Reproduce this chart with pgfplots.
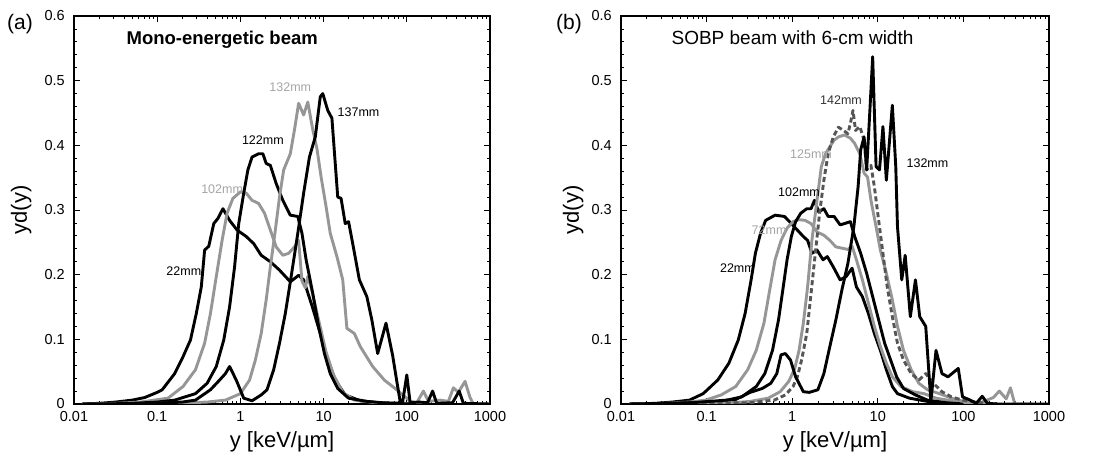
\documentclass[border=0pt]{standalone}
\usepackage{pgfplots}
\pgfplotsset{compat=1.18}
\usepackage{fontspec}
\setmainfont{Liberation Sans}
\definecolor{lg}{RGB}{150,150,150}
\definecolor{lgl}{RGB}{165,165,165}
\definecolor{dg}{RGB}{85,85,85}
\pgfplotsset{
  panel/.style={
    scale only axis, anchor=south west, height=388pt,
    xmin=-2, xmax=3, ymin=0, ymax=0.6,
    xtick={-2,-1,0,1,2,3},
    xticklabels={0.01,0.1,1,10,100,1000},
    minor xtick={-1.699,-1.523,-1.398,-1.301,-1.222,-1.155,-1.097,-1.046,
      -0.699,-0.523,-0.398,-0.301,-0.222,-0.155,-0.097,-0.046,
      0.301,0.477,0.602,0.699,0.778,0.845,0.903,0.954,
      1.301,1.477,1.602,1.699,1.778,1.845,1.903,1.954,
      2.301,2.477,2.602,2.699,2.778,2.845,2.903,2.954},
    ytick={0,0.1,0.2,0.3,0.4,0.5,0.6},
    yticklabels={0,0.1,0.2,0.3,0.4,0.5,0.6},
    minor y tick num=4,
    tick align=inside, tick pos=both,
    major tick length=6pt, minor tick length=3pt,
    every tick/.style={black, line width=0.8pt},
    axis line style={line width=1.3pt},
    xticklabel style={font=\fontsize{14.5}{16}\selectfont, inner sep=0pt, yshift=-7pt},
    yticklabel style={font=\fontsize{14.5}{16}\selectfont, inner sep=0pt, xshift=-9pt},
    xlabel={y [keV/µm]},
    ylabel={yd(y)},
    xlabel style={font=\fontsize{22}{24}\selectfont, at={(axis description cs:0.5,-0.098)}, anchor=center},
    label style={font=\fontsize{22}{24}\selectfont},
    every axis plot/.append style={line width=2.9pt, line join=round},
  },
  blk/.style={black},
  gry/.style={lg},
}
\begin{document}
\begin{tikzpicture}
\useasboundingbox (0,0) rectangle (1096pt,460pt);
\node[font=\fontsize{21}{23}\selectfont] at (20pt,436pt) {(a)};
\node[font=\fontsize{21}{23}\selectfont] at (569pt,436pt) {(b)};
% ---------------- panel (a) ----------------
\begin{axis}[panel, width=416pt, at={(74pt,56pt)},
  ylabel style={at={(axis description cs:-0.127,0.5)}, anchor=center}]
% 22mm
\addplot[blk] coordinates {(-1.9,0) (-1.7,0.001) (-1.5,0.003) (-1.3,0.006) (-1.15,0.01) (-1.0,0.018) (-0.94,0.022) (-0.79,0.047) (-0.69,0.073) (-0.60,0.099) (-0.53,0.14) (-0.47,0.181) (-0.43,0.238) (-0.38,0.244) (-0.32,0.279) (-0.27,0.287) (-0.21,0.302) (-0.13,0.284) (-0.04,0.269) (0.07,0.259) (0.16,0.248) (0.25,0.230) (0.36,0.220) (0.47,0.207) (0.60,0.189) (0.70,0.199) (0.76,0.192) (0.87,0.148) (0.96,0.109) (1.05,0.068) (1.14,0.037) (1.26,0.014) (1.44,0.005) (1.66,0.002) (2.0,0.001) (2.2,0)};
% 102mm
\addplot[gry] coordinates {(-1.9,0) (-1.5,0.001) (-1.2,0.003) (-0.87,0.009) (-0.69,0.027) (-0.54,0.053) (-0.43,0.094) (-0.36,0.14) (-0.29,0.197) (-0.22,0.253) (-0.16,0.295) (-0.09,0.318) (0,0.328) (0.07,0.326) (0.14,0.315) (0.22,0.31) (0.29,0.295) (0.36,0.269) (0.43,0.243) (0.51,0.23) (0.58,0.233) (0.65,0.243) (0.70,0.253) (0.74,0.19) (0.78,0.18) (0.81,0.197) (0.85,0.18) (0.94,0.13) (1.03,0.08) (1.12,0.045) (1.23,0.018) (1.37,0.006) (1.62,0.002) (1.9,0.001) (2.2,0)};
% 122mm
\addplot[blk] coordinates {(-1.9,0) (-1.3,0.001) (-1.0,0.003) (-0.79,0.006) (-0.54,0.016) (-0.40,0.032) (-0.29,0.058) (-0.20,0.099) (-0.13,0.15) (-0.07,0.212) (-0.02,0.279) (0.04,0.326) (0.09,0.362) (0.14,0.382) (0.22,0.387) (0.27,0.387) (0.31,0.372) (0.36,0.369) (0.43,0.341) (0.51,0.315) (0.60,0.292) (0.69,0.29) (0.74,0.264) (0.79,0.223) (0.87,0.171) (0.94,0.12) (1.01,0.078) (1.08,0.047) (1.17,0.024) (1.30,0.009) (1.52,0.004) (1.8,0.001) (2.1,0)};
% 132mm
\addplot[gry] coordinates {(-1.9,0) (-0.8,0.001) (-0.4,0.003) (-0.18,0.006) (0,0.016) (0.11,0.037) (0.18,0.068) (0.25,0.109) (0.31,0.161) (0.36,0.212) (0.42,0.269) (0.47,0.32) (0.52,0.362) (0.60,0.387) (0.65,0.424) (0.70,0.465) (0.76,0.447) (0.81,0.467) (0.87,0.424) (0.92,0.395) (0.97,0.351) (1.03,0.305) (1.08,0.264) (1.16,0.228) (1.23,0.192) (1.28,0.117) (1.37,0.109) (1.44,0.089) (1.59,0.058) (1.73,0.037) (1.88,0.022) (1.95,0.014) (2.05,0.004) (2.12,0.002) (2.2,0.02) (2.26,0.004) (2.4,0.006) (2.5,0.004) (2.56,0.025) (2.62,0.018) (2.7,0.035) (2.76,0.01) (2.8,0) (3,0)};
% 137mm
\addplot[blk] coordinates {(-1.9,0) (-1.0,0.001) (-0.7,0.003) (-0.54,0.006) (-0.36,0.022) (-0.25,0.037) (-0.18,0.047) (-0.13,0.058) (-0.05,0.037) (0.04,0.009) (0.14,0.005) (0.25,0.014) (0.32,0.022) (0.40,0.053) (0.47,0.094) (0.54,0.14) (0.61,0.197) (0.69,0.264) (0.76,0.326) (0.83,0.382) (0.90,0.413) (0.96,0.475) (0.99,0.48) (1.05,0.454) (1.10,0.442) (1.14,0.372) (1.17,0.32) (1.21,0.318) (1.26,0.279) (1.30,0.282) (1.35,0.248) (1.43,0.192) (1.52,0.166) (1.58,0.13) (1.65,0.078) (1.75,0.125) (1.83,0.075) (1.88,0.035) (1.92,0.004) (1.95,0.003) (2.0,0.045) (2.04,0.002) (2.15,0.003) (2.25,0.002) (2.31,0.02) (2.36,0.001) (2.55,0.002) (2.63,0.02) (2.68,0.001) (3,0)};
\node[font=\fontsize{18.5}{20}\selectfont\bfseries, anchor=west] at (axis cs:-1.41,0.563) {Mono-energetic beam};
\node[font=\fontsize{12.5}{14}\selectfont, text=lgl] at (axis cs:0.60,0.49) {132mm};
\node[font=\fontsize{12.5}{14}\selectfont] at (axis cs:1.42,0.451) {137mm};
\node[font=\fontsize{12.5}{14}\selectfont] at (axis cs:0.27,0.408) {122mm};
\node[font=\fontsize{12.5}{14}\selectfont, text=lgl] at (axis cs:-0.22,0.332) {102mm};
\node[font=\fontsize{12.5}{14}\selectfont] at (axis cs:-0.68,0.205) {22mm};
\end{axis}
% ---------------- panel (b) ----------------
\begin{axis}[panel, width=428pt, at={(621pt,56pt)},
  ylabel style={at={(axis description cs:-0.112,0.5)}, anchor=center}]
% 22mm
\addplot[blk] coordinates {(-1.9,0) (-1.6,0.001) (-1.4,0.003) (-1.2,0.006) (-1.04,0.016) (-0.87,0.037) (-0.74,0.063) (-0.63,0.099) (-0.55,0.14) (-0.48,0.192) (-0.43,0.233) (-0.37,0.264) (-0.31,0.284) (-0.2,0.292) (-0.09,0.29) (-0.01,0.279) (0.06,0.269) (0.13,0.259) (0.18,0.253) (0.23,0.233) (0.29,0.238) (0.36,0.223) (0.41,0.228) (0.48,0.212) (0.56,0.192) (0.63,0.197) (0.70,0.21) (0.75,0.181) (0.82,0.166) (0.89,0.14) (0.96,0.109) (1.03,0.083) (1.10,0.053) (1.17,0.027) (1.23,0.016) (1.37,0.009) (1.58,0.004) (1.8,0.001) (2.0,0)};
% 72mm
\addplot[gry] coordinates {(-1.9,0) (-1.5,0.001) (-1.2,0.003) (-1.01,0.006) (-0.83,0.014) (-0.66,0.027) (-0.52,0.053) (-0.42,0.083) (-0.33,0.125) (-0.27,0.171) (-0.20,0.223) (-0.13,0.253) (-0.06,0.272) (0.01,0.282) (0.08,0.285) (0.15,0.284) (0.22,0.279) (0.29,0.266) (0.37,0.261) (0.44,0.253) (0.51,0.243) (0.58,0.241) (0.65,0.239) (0.70,0.244) (0.75,0.223) (0.82,0.192) (0.89,0.156) (0.96,0.12) (1.03,0.089) (1.10,0.063) (1.17,0.042) (1.27,0.027) (1.41,0.019) (1.54,0.016) (1.68,0.009) (1.86,0.005) (2.1,0.001) (2.3,0)};
% 102mm
\addplot[blk] coordinates {(-1.9,0) (-1.4,0.001) (-1.1,0.002) (-0.83,0.004) (-0.59,0.011) (-0.42,0.027) (-0.32,0.047) (-0.23,0.083) (-0.16,0.13) (-0.11,0.176) (-0.06,0.223) (-0.01,0.259) (0.04,0.282) (0.10,0.295) (0.17,0.302) (0.22,0.302) (0.26,0.315) (0.31,0.297) (0.37,0.302) (0.42,0.29) (0.49,0.29) (0.56,0.277) (0.61,0.279) (0.68,0.282) (0.73,0.259) (0.80,0.233) (0.87,0.202) (0.94,0.166) (1.01,0.13) (1.08,0.094) (1.15,0.068) (1.22,0.042) (1.30,0.024) (1.44,0.014) (1.58,0.006) (1.8,0.002) (2.0,0)};
% 125mm
\addplot[gry] coordinates {(-1.9,0) (-1.0,0.001) (-0.7,0.002) (-0.49,0.004) (-0.28,0.009) (-0.14,0.019) (-0.04,0.035) (0.03,0.055) (0.08,0.083) (0.13,0.125) (0.18,0.181) (0.23,0.253) (0.29,0.315) (0.34,0.367) (0.39,0.387) (0.44,0.398) (0.49,0.408) (0.54,0.413) (0.61,0.416) (0.68,0.411) (0.73,0.403) (0.79,0.387) (0.84,0.357) (0.88,0.351) (0.92,0.315) (0.98,0.274) (1.03,0.238) (1.10,0.202) (1.17,0.161) (1.23,0.12) (1.30,0.083) (1.39,0.053) (1.48,0.032) (1.58,0.022) (1.72,0.016) (1.86,0.009) (2.0,0.004) (2.2,0.002) (2.35,0.01) (2.42,0.02) (2.5,0.008) (2.55,0.025) (2.6,0) (2.8,0)};
% 142mm dashed
\addplot[dg, dash pattern=on 5pt off 3pt] coordinates {(-1.9,0) (-1.0,0.001) (-0.49,0.002) (-0.21,0.006) (-0.08,0.014) (0.01,0.027) (0.06,0.042) (0.11,0.068) (0.17,0.109) (0.22,0.171) (0.27,0.233) (0.32,0.295) (0.37,0.346) (0.42,0.387) (0.48,0.413) (0.54,0.428) (0.60,0.423) (0.65,0.418) (0.68,0.434) (0.71,0.454) (0.74,0.423) (0.79,0.429) (0.84,0.408) (0.87,0.362) (0.92,0.369) (0.96,0.336) (1.01,0.284) (1.06,0.233) (1.11,0.181) (1.17,0.135) (1.23,0.094) (1.30,0.068) (1.39,0.047) (1.48,0.037) (1.56,0.047) (1.65,0.032) (1.75,0.019) (1.86,0.011) (1.99,0.006) (2.2,0.002) (2.4,0)};
% 132mm
\addplot[blk] coordinates {(-1.9,0) (-1.5,0.001) (-1.18,0.002) (-0.66,0.007) (-0.49,0.018) (-0.35,0.024) (-0.25,0.032) (-0.18,0.047) (-0.13,0.076) (-0.08,0.078) (-0.02,0.068) (0.04,0.042) (0.13,0.019) (0.20,0.018) (0.30,0.022) (0.37,0.047) (0.44,0.089) (0.51,0.13) (0.58,0.176) (0.65,0.217) (0.72,0.274) (0.77,0.336) (0.80,0.393) (0.84,0.413) (0.87,0.362) (0.91,0.46) (0.94,0.537) (0.98,0.367) (1.02,0.362) (1.06,0.429) (1.10,0.346) (1.17,0.462) (1.21,0.367) (1.23,0.274) (1.28,0.192) (1.32,0.23) (1.38,0.135) (1.44,0.192) (1.49,0.135) (1.56,0.12) (1.62,0.004) (1.68,0.083) (1.75,0.047) (1.82,0.042) (1.94,0.055) (1.99,0.011) (2.08,0.006) (2.15,0.001) (2.22,0.012) (2.28,0.001) (2.4,0) (3,0)};
\node[font=\fontsize{19}{21}\selectfont, anchor=west] at (axis cs:-1.45,0.566) {SOBP beam with 6-cm width};
\node[font=\fontsize{12.5}{14}\selectfont, text=black!80] at (axis cs:0.57,0.47) {142mm};
\node[font=\fontsize{12.5}{14}\selectfont] at (axis cs:1.58,0.373) {132mm};
\node[font=\fontsize{12.5}{14}\selectfont, text=lgl] at (axis cs:0.22,0.387) {125mm};
\node[font=\fontsize{12.5}{14}\selectfont] at (axis cs:0.08,0.328) {102mm};
\node[font=\fontsize{12.5}{14}\selectfont, text=lgl] at (axis cs:-0.27,0.269) {72mm};
\node[font=\fontsize{12.5}{14}\selectfont] at (axis cs:-0.64,0.21) {22mm};
\end{axis}
\end{tikzpicture}
\end{document}
